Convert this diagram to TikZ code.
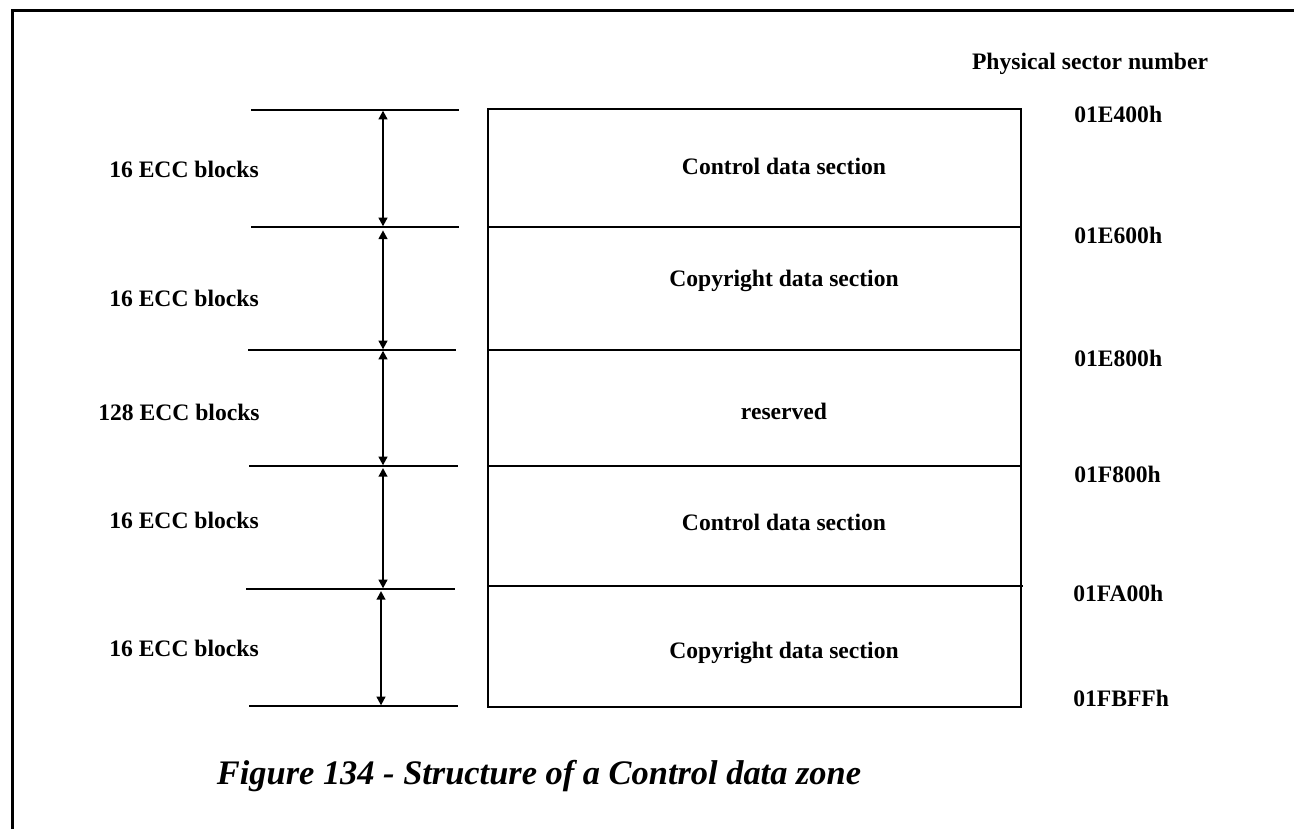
\documentclass[tikz,border=0pt]{standalone}
\usepackage{fontspec}
\setmainfont{Liberation Serif}
\usetikzlibrary{arrows.meta}
\begin{document}
\begin{tikzpicture}[x=0.75pt,y=-0.75pt,
  lbl/.style={font=\fontsize{17.7}{20}\selectfont\bfseries, inner sep=0pt, anchor=base},
  addr/.style={lbl, anchor=base west},
  figcaption/.style={font=\fontsize{25.8}{30}\selectfont\bfseries\itshape, inner sep=0pt, anchor=base},
  rule/.style={line width=1.5pt},
  dim/.style={line width=1.5pt, {Triangle[width=6.5pt,length=6.5pt]}-{Triangle[width=6.5pt,length=6.5pt]}, shorten <=0.5pt, shorten >=0.5pt},
  frame/.style={line width=2.25pt, line join=miter}]
\useasboundingbox (0,0) rectangle (1294,829);
% frame
\draw[frame] (12,829) -- (12,10) -- (1294,10);
% left extension lines
\coordinate (l0) at (383,110);
\coordinate (l1) at (383,227);
\coordinate (l2) at (383,350);
\coordinate (l3) at (383,466);
\coordinate (l4) at (383,589);
\coordinate (l5) at (381,706);
\draw[rule] (251,110) -- (459,110);
\draw[rule] (251,227) -- (459,227);
\draw[rule] (248,350) -- (456,350);
\draw[rule] (249,466) -- (458,466);
\draw[rule] (246,589) -- (455,589);
\draw[rule] (249,706) -- (458,706);
% dimension arrows
\draw[dim] (l0) -- (l1);
\draw[dim] ([yshift=-2pt]l1) -- (l2);
\draw[dim] (l2) -- (l3);
\draw[dim] ([yshift=-1pt]l3) -- (l4);
\draw[dim] ([yshift=-1pt]l4 -| l5) -- (l5);
% main box
\draw[rule] (488,109) rectangle (1021,707);
\draw[rule] (488,227) -- (1021,227);
\draw[rule] (488,350) -- (1021,350);
\draw[rule] (488,466) -- (1021,466);
\draw[rule] (488,586) -- (1023,586);
% section labels
\node[lbl] (s1) at (784,174) {Control data section};
\node[lbl] (s2) at (784,286) {Copyright data section};
\node[lbl] (s3) at (784,419) {reserved};
\node[lbl] (s4) at (784,530) {Control data section};
\node[lbl] (s5) at (784,658) {Copyright data section};
% block counts
\node[lbl] (b1) at (184,177) {16 ECC blocks};
\node[lbl] (b2) at (184,306) {16 ECC blocks};
\node[lbl] (b3) at (179,420) {128 ECC blocks};
\node[lbl] (b4) at (184,528) {16 ECC blocks};
\node[lbl] (b5) at (184,656) {16 ECC blocks};
% addresses
\node[lbl] (psn) at (1090,69) {Physical sector number};
\node[addr] (a0) at (1074,122) {01E400h};
\node[addr] (a1) at (1074,243) {01E600h};
\node[addr] (a2) at (1074,366) {01E800h};
\node[addr] (a3) at (1074,482) {01F800h};
\node[addr] (a4) at (1073,601) {01FA00h};
\node[addr] (a5) at (1073,706) {01FBFFh};
% caption
\node[figcaption] (caption) at (539,784) {Figure 134 - Structure of a Control data zone};
\end{tikzpicture}
\end{document}
